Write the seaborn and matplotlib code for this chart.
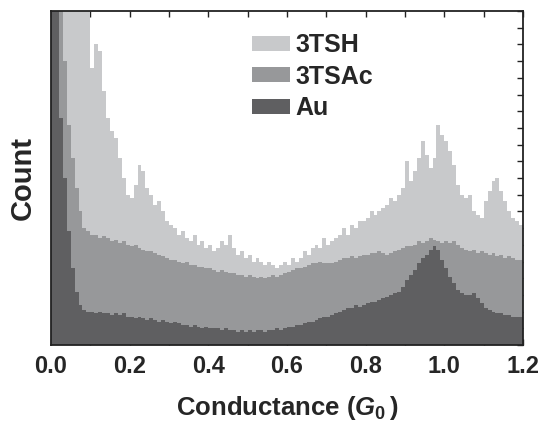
import numpy as np
import pandas as pd
import matplotlib
matplotlib.use("Agg")
import matplotlib.pyplot as plt
from matplotlib.patches import Patch
from matplotlib.ticker import MultipleLocator
import seaborn as sns

# -----------------------------
# DATA (counts, arbitrary units, bins of 0.01 G0)
# -----------------------------
bin_width = 0.01
bin_left = np.round(np.arange(0, 1.2, bin_width), 2)

counts_3tsh = [
    40, 38, 35, 32, 28, 24, 20, 16, 13, 11.5,
    8.3, 9.0, 8.8, 7.6, 6.8, 6.4, 6.2, 5.6, 5.0, 4.5,
    4.4, 4.8, 5.4, 5.2, 4.7, 4.5, 4.2, 4.3, 4.0, 3.7,
    3.6, 3.5, 3.3, 3.4, 3.2, 3.1, 3.3, 3.0, 3.1, 2.9,
    3.0, 2.8, 2.9, 3.1, 3.0, 3.3, 2.9, 2.7, 2.8, 2.6,
    2.7, 2.5, 2.6, 2.5, 2.4, 2.5, 2.4, 2.3, 2.4, 2.5,
    2.4, 2.6, 2.5, 2.6, 2.8, 2.7, 2.9, 3.0, 2.9, 3.2,
    3.0, 3.1, 3.2, 3.3, 3.5, 3.3, 3.6, 3.5, 3.7, 3.7,
    3.8, 4.0, 3.9, 4.0, 4.1, 4.2, 4.4, 4.3, 4.5, 4.7,
    5.5, 4.9, 5.2, 5.6, 6.1, 5.7, 5.3, 5.6, 6.6, 6.3,
    6.1, 5.8, 5.4, 4.8, 4.5, 4.4, 4.5, 4.0, 3.9, 3.8,
    4.3, 4.6, 4.9, 5.0, 4.6, 4.3, 4.0, 3.8, 3.7, 3.6,
]

counts_3tsac = [
    40, 30, 14, 8.5, 6.6, 5.6, 4.7, 4.0, 3.5, 3.4,
    3.3, 3.3, 3.2, 3.25, 3.2, 3.1, 3.15, 3.05, 3.1, 3.0,
    2.95, 3.0, 2.9, 2.85, 2.8, 2.8, 2.75, 2.7, 2.65, 2.6,
    2.55, 2.55, 2.5, 2.45, 2.5, 2.4, 2.4, 2.35, 2.35, 2.3,
    2.3, 2.25, 2.2, 2.25, 2.2, 2.15, 2.15, 2.1, 2.1, 2.05,
    2.1, 2.05, 2.0, 2.05, 2.0, 2.05, 2.1, 2.05, 2.1, 2.15,
    2.2, 2.25, 2.3, 2.3, 2.35, 2.4, 2.45, 2.45, 2.5, 2.45,
    2.45, 2.45, 2.5, 2.55, 2.6, 2.6, 2.65, 2.6, 2.65, 2.7,
    2.7, 2.75, 2.75, 2.8, 2.75, 2.7, 2.75, 2.8, 2.85, 2.9,
    2.95, 2.95, 3.0, 3.1, 3.05, 3.1, 3.2, 3.15, 3.1, 3.05,
    3.1, 3.05, 3.1, 3.0, 2.9, 2.85, 2.8, 2.85, 2.75, 2.8,
    2.75, 2.7, 2.75, 2.65, 2.7, 2.6, 2.65, 2.6, 2.55, 2.55,
]

counts_au = [
    40, 25, 6.8, 5.0, 3.4, 2.3, 1.6, 1.2, 1.05, 1.0,
    1.0, 0.95, 1.0, 0.95, 0.95, 0.9, 0.95, 0.9, 0.95, 0.85,
    0.85, 0.8, 0.85, 0.8, 0.75, 0.8, 0.75, 0.7, 0.75, 0.7,
    0.65, 0.7, 0.65, 0.6, 0.6, 0.55, 0.6, 0.55, 0.5, 0.55,
    0.5, 0.5, 0.5, 0.45, 0.5, 0.45, 0.45, 0.4, 0.45, 0.4,
    0.45, 0.4, 0.45, 0.45, 0.4, 0.45, 0.45, 0.5, 0.45, 0.5,
    0.55, 0.55, 0.6, 0.6, 0.65, 0.7, 0.7, 0.75, 0.8, 0.85,
    0.85, 0.9, 0.95, 1.0, 1.05, 1.1, 1.1, 1.2, 1.15, 1.2,
    1.25, 1.3, 1.3, 1.35, 1.4, 1.45, 1.5, 1.55, 1.6, 1.75,
    1.95, 2.1, 2.25, 2.45, 2.6, 2.7, 2.85, 2.95, 2.85, 2.55,
    2.3, 2.05, 1.85, 1.65, 1.55, 1.5, 1.5, 1.55, 1.4, 1.25,
    1.1, 1.05, 1.0, 0.95, 0.95, 0.9, 0.9, 0.85, 0.85, 0.85,
]

series_names = ["3TSH", "3TSAc", "Au"]
series_colors = ["#c8c9cb", "#97989a", "#5f5f61"]

# -----------------------------
# STYLE
# -----------------------------
sns.set_style("white")
plt.rcParams["font.family"] = ["Liberation Sans", "DejaVu Sans"]
plt.rcParams["font.weight"] = "bold"
plt.rcParams["mathtext.fontset"] = "custom"
plt.rcParams["mathtext.rm"] = "Liberation Sans:bold"
plt.rcParams["mathtext.it"] = "Liberation Sans:italic:bold"

fig = plt.figure(figsize=(5.43, 4.25), dpi=100)
ax = fig.add_axes([51 / 543, 80 / 425, 472 / 543, 334 / 425])

centers = bin_left + bin_width / 2

for name, counts, color in zip(series_names,
                               [counts_3tsh, counts_3tsac, counts_au],
                               series_colors):
    df = pd.DataFrame({"G": centers, "count": counts})
    sns.histplot(
        data=df, x="G", weights="count",
        binwidth=bin_width, binrange=(0, 1.2),
        element="step", fill=True, color=color, alpha=1,
        linewidth=0, ax=ax,
    )

# ticks
ax.xaxis.set_major_locator(MultipleLocator(0.2))
ax.xaxis.set_minor_locator(MultipleLocator(0.1))
ax.set_xlim(0, 1.2)
ax.set_ylim(0, 10)
ax.set_yticks(np.arange(0.5, 10, 1.0))
ax.yaxis.set_minor_locator(MultipleLocator(0.5))
ax.set_yticklabels([])
ax.tick_params(which="both", direction="in", top=True, right=True,
               bottom=True, left=True, length=4.5, width=1.0, color="#222222")
ax.tick_params(axis="y", which="minor", left=False, right=True)
ax.tick_params(axis="x", labelsize=17, pad=7)
ax.xaxis.set_major_formatter(plt.FuncFormatter(lambda v, p: f"{v:.1f}"))
for lbl in ax.get_xticklabels():
    lbl.set_fontweight("bold")

for sp in ax.spines.values():
    sp.set_visible(True)
    sp.set_color("#222222")
    sp.set_linewidth(1.3)

ax.set_xlabel(r"Conductance ($G_{\mathit{0}}\,$)", fontsize=18.5,
              fontweight="bold", labelpad=12)
ax.set_ylabel("Count", fontsize=21, fontweight="bold", labelpad=7)

handles = [Patch(facecolor=c, edgecolor="none") for c in series_colors]
ax.legend(handles, series_names, loc="upper left",
          bbox_to_anchor=((252 - 51) / 472, (345 - 33) / 334),
          frameon=False, prop={"weight": "bold", "size": 18},
          handlelength=1.52, handleheight=0.55, handletextpad=0.2,
          labelspacing=0.3, borderpad=0, borderaxespad=0)

plt.savefig("out.png", dpi=100)
plt.close()
